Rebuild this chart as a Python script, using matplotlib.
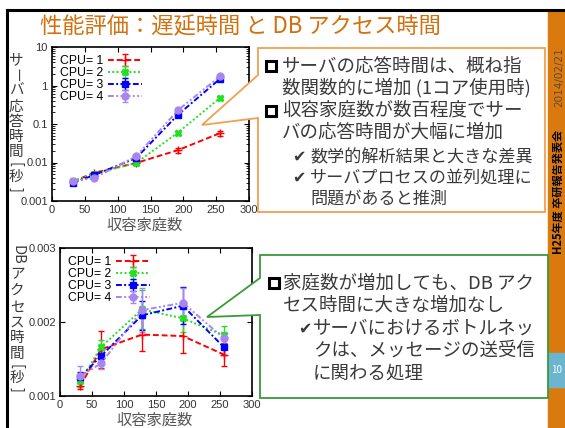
import matplotlib
matplotlib.use('Agg')
from matplotlib import pyplot as plt
from matplotlib import patches, transforms
from matplotlib.ticker import LogLocator, NullFormatter
import numpy as np

plt.rcParams['font.family'] = ['Noto Sans CJK JP', 'DejaVu Sans']

homes = [32, 64, 128, 192, 256]
cpus = ['CPU= 1', 'CPU= 2', 'CPU= 3', 'CPU= 4']

# server response time [s]
resp = [
    [0.0032, 0.0054, 0.0097, 0.021, 0.058],
    [0.0033, 0.0051, 0.0097, 0.060, 0.48],
    [0.0030, 0.0047, 0.013, 0.175, 1.5],
    [0.0033, 0.0039, 0.0145, 0.23, 1.75],
]
resp_err = [
    [0.0001, 0.0003, 0.0008, 0.003, 0.008],
    [0.0001, 0.0002, 0.0005, 0.006, 0.03],
    [0.0001, 0.0002, 0.0008, 0.01, 0.07],
    [0.0001, 0.0002, 0.0008, 0.012, 0.08],
]

# DB access time [s]
db = [
    [0.00114, 0.00163, 0.00183, 0.00181, 0.00156],
    [0.00120, 0.00166, 0.00217, 0.00205, 0.00182],
    [0.00126, 0.00154, 0.00209, 0.00222, 0.00166],
    [0.00127, 0.00144, 0.00216, 0.00226, 0.00178],
]
db_err = [
    [0.00004, 0.00025, 0.00022, 0.00023, 0.00015],
    [0.00008, 0.00010, 0.00026, 0.00018, 0.00012],
    [0.00006, 0.00008, 0.00020, 0.00025, 0.00010],
    [0.00013, 0.00008, 0.00030, 0.00020, 0.00008],
]

colors = ['#ff0000', '#22e022', '#0000ff', '#a886f0']
styles = [(0, (3, 1.5)), (0, (1, 1.2)), (0, (3, 1.2, 1, 1.2)), (0, (3, 1.2, 1, 1.2, 1, 1.2))]
markers = ['+', 'X', 's', 'o']
msizes = [6, 5, 5, 5]

W, H = 565, 428
fig = plt.figure(figsize=(W / 100, H / 100), dpi=100)
px = transforms.Affine2D().scale(1 / W, -1 / H).translate(0, 1) + fig.transFigure

text_gray = '#3a3a3a'
orange = '#d9790e'

# slide frame and side bar
fig.patches.append(patches.Rectangle((548, 11), 17, 417, color=orange, transform=px, zorder=0))
fig.patches.append(patches.Rectangle((548, 353), 17, 34, color='#6bb5cf', transform=px, zorder=1))
fig.lines.append(plt.Line2D([7, 7], [10, 428], color='black', lw=2.2, transform=px))
fig.lines.append(plt.Line2D([7, 565], [10, 10], color='black', lw=2.2, transform=px))
fig.text(558, 192, 'H25年度 卒研報告発表会', transform=px, rotation=90, fontsize=8,
         fontweight='bold', ha='center', va='center', color='black')
fig.text(559, 77, '2014/02/21', transform=px, rotation=90, fontsize=7.5, ha='center',
         va='center', color='#5e4a38', family='DejaVu Sans')
fig.text(557, 370, '10', transform=px, fontsize=7, ha='center', va='center', color='white')

fig.text(40, 27, '性能評価：遅延時間 と DB アクセス時間', transform=px, fontsize=16,
         color='#d2700e', ha='left', va='center')


def setup(ax):
    ax.set_xlim(0, 300)
    ax.set_xticks(range(0, 301, 50))
    ax.tick_params(which='both', direction='in', top=True, right=True, labelsize=8,
                   colors='black', pad=3)
    for lab in ax.get_xticklabels() + ax.get_yticklabels():
        lab.set_family('Liberation Sans')
        lab.set_color('#333333')
    for s in ax.spines.values():
        s.set_linewidth(1.2)


def vertical_label(chars, x, ys, size=10.5):
    for c, y in zip(chars, ys):
        rot = 0
        if c in ['ー', '[', ']', 'DB']:
            rot = -90
        fig.text(x, y, c, transform=px, fontsize=size, ha='center', va='center',
                 rotation=rot, color=text_gray)


def legend(ax):
    ax.legend(loc='upper left', markerfirst=False, frameon=False, handlelength=2.8,
              labelspacing=0.0, borderaxespad=0.25, handletextpad=0.4,
              prop={'family': 'Liberation Sans', 'size': 8.8})


# upper chart: response time
ax1 = fig.add_axes([52 / W, 1 - 201 / H, 197 / W, 154 / H])
for i in range(4):
    ax1.errorbar(homes, resp[i], yerr=resp_err[i], color=colors[i], ls=styles[i], lw=1.4,
                 marker=markers[i], ms=msizes[i], capsize=2, elinewidth=1, label=cpus[i])
ax1.set_yscale('log')
ax1.set_ylim(0.001, 10)
ax1.set_yticks([0.001, 0.01, 0.1, 1, 10])
ax1.set_yticklabels(['0.001', '0.01', '0.1', '1', '10'])
ax1.yaxis.set_minor_locator(LogLocator(subs=np.arange(2, 10)))
ax1.yaxis.set_minor_formatter(NullFormatter())
setup(ax1)
legend(ax1)
vertical_label(['サ', 'ー', 'バ', '応', '答', '時', '間', '[', '秒', ']'], 16,
               [60, 75, 91, 107, 122, 137, 152, 164, 177, 189])
fig.text(145, 225, '収容家庭数', transform=px, fontsize=11, ha='center', va='center',
         color='#555555')

# lower chart: DB access time
ax2 = fig.add_axes([60 / W, 1 - 396 / H, 192 / W, 148 / H])
for i in range(4):
    ax2.errorbar(homes, db[i], yerr=db_err[i], color=colors[i], ls=styles[i], lw=1.4,
                 marker=markers[i], ms=msizes[i], capsize=2, elinewidth=1, label=cpus[i])
ax2.set_ylim(0.001, 0.003)
ax2.set_yticks([0.001, 0.002, 0.003])
ax2.set_yticklabels(['0.001', '0.002', '0.003'])
setup(ax2)
legend(ax2)
vertical_label(['DB', 'ア', 'ク', 'セ', 'ス', '時', '間', '[', '秒', ']'], 17,
               [255, 274, 291, 308, 323, 338, 354, 366, 378, 389])
fig.text(155, 420, '収容家庭数', transform=px, fontsize=11, ha='center', va='center',
         color='#555555')

# callout boxes
box1 = [(258, 48), (545, 48), (545, 212), (258, 212), (258, 118), (202, 125), (258, 75)]
fig.patches.append(patches.Polygon(box1, closed=True, fc='white', ec='#f0a050', lw=1.3,
                                   transform=px, zorder=5))
box2 = [(260, 255), (548, 255), (548, 398), (260, 398), (260, 315), (207, 317), (260, 278)]
fig.patches.append(patches.Polygon(box2, closed=True, fc='white', ec='#3a9a3a', lw=1.3,
                                   transform=px, zorder=5))

for bx, by in [(271, 66), (271, 111), (274, 283)]:
    fig.patches.append(patches.Rectangle((bx - 5, by - 5), 10, 10, fc='none', ec='black',
                                         lw=2.2, transform=px, zorder=6))


def line(x, y, s, size=13.3):
    fig.text(x, y, s, transform=px, fontsize=size, ha='left', va='center', color=text_gray,
             zorder=7)


line(282, 67, 'サーバの応答時間は、概ね指')
line(282, 88, '数関数的に増加 (1コア使用時)')
line(282, 111, '収容家庭数が数百程度でサー')
line(282, 133, 'バの応答時間が大幅に増加')
line(292, 157, '✔', 11.5)
line(310, 157, '数学的解析結果と大きな差異', 12.3)
line(292, 178, '✔', 11.5)
line(310, 178, 'サーバプロセスの並列処理に', 12.3)
line(310, 199, '問題があると推測', 12.3)

line(283, 284, '家庭数が増加しても、DB アク')
line(283, 306, 'セス時間に大きな増加なし')
line(298, 329, '✔', 11.5)
line(313, 329, 'サーバにおけるボトルネッ')
line(313, 351, 'クは、メッセージの送受信')
line(313, 374, 'に関わる処理')

plt.savefig('out.png', dpi=100)
